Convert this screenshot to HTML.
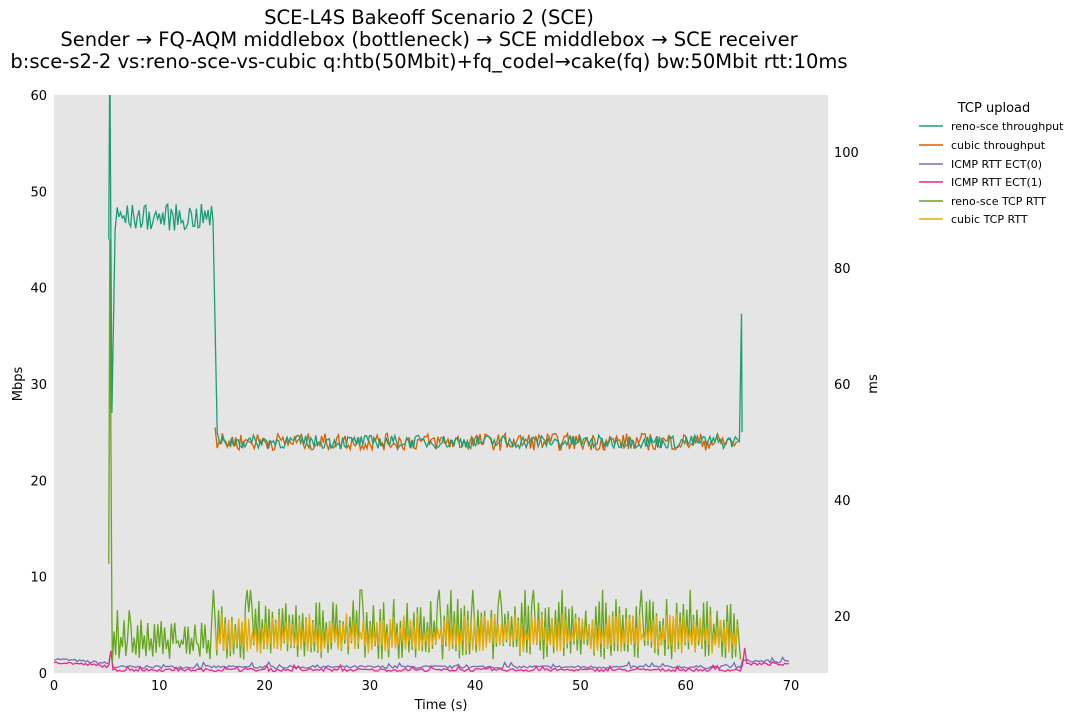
<!DOCTYPE html><html><head><meta charset="utf-8"><style>
body{margin:0;background:#fff;font-family:"DejaVu Sans",sans-serif}
</style></head><body>
<svg id="s" width="1084" height="721" xmlns="http://www.w3.org/2000/svg" font-family="DejaVu Sans, sans-serif">
<rect x="54" y="95" width="774" height="578" fill="#e5e5e5"/>
<g font-size="19.5" text-anchor="middle" fill="#000">
<text x="429" y="24">SCE-L4S Bakeoff Scenario 2 (SCE)</text>
<text x="429" y="46">Sender → FQ-AQM middlebox (bottleneck) → SCE middlebox → SCE receiver</text>
<text x="429" y="68">b:sce-s2-2 vs:reno-sce-vs-cubic q:htb(50Mbit)+fq_codel→cake(fq) bw:50Mbit rtt:10ms</text>
</g>
<g font-size="13" fill="#000" id="ticks"></g>
<text x="441" y="709" font-size="13" text-anchor="middle">Time (s)</text>
<text transform="translate(22,384) rotate(-90)" font-size="13" text-anchor="middle">Mbps</text>
<text transform="translate(877,384) rotate(-90)" font-size="13" text-anchor="middle">ms</text>
<clipPath id="c"><rect x="54" y="95" width="774" height="578"/></clipPath>
<g clip-path="url(#c)" fill="none" stroke-width="1.3" id="lines"></g>
<g font-size="11">
<text x="994" y="112" font-size="13" text-anchor="middle">TCP upload</text>
<line x1="919" x2="943" y1="126" y2="126" stroke="#1b9e77" stroke-width="1.5"/><text x="951" y="130">reno-sce throughput</text>
<line x1="919" x2="943" y1="145" y2="145" stroke="#d95f02" stroke-width="1.5"/><text x="951" y="149">cubic throughput</text>
<line x1="919" x2="943" y1="164" y2="164" stroke="#7570b3" stroke-width="1.5"/><text x="951" y="168">ICMP RTT ECT(0)</text>
<line x1="919" x2="943" y1="182" y2="182" stroke="#e7298a" stroke-width="1.5"/><text x="951" y="186">ICMP RTT ECT(1)</text>
<line x1="919" x2="943" y1="201" y2="201" stroke="#66a61e" stroke-width="1.5"/><text x="951" y="205">reno-sce TCP RTT</text>
<line x1="919" x2="943" y1="219" y2="219" stroke="#e6ab02" stroke-width="1.5"/><text x="951" y="223">cubic TCP RTT</text>
</g>
</svg>
<script>
function X(t){return 54+t*10.529}function YM(v){return 673-v*9.633}function YS(m){return 732-m*5.8}
var tk=document.getElementById('ticks'),h='';
for(var t=0;t<=70;t+=10)h+='<text x="'+X(t)+'" y="690" text-anchor="middle">'+t+'</text>';
for(var v=0;v<=60;v+=10)h+='<text x="47" y="'+(YM(v)+5)+'" text-anchor="end">'+v+'</text>';
for(var m=20;m<=100;m+=20)h+='<text x="834" y="'+(YS(m)+5)+'">'+m+'</text>';
tk.innerHTML=h;
var seed=7;function r(){seed=(seed*16807)%2147483647;return seed/2147483647}
function path(pts,c){return '<path stroke="'+c+'" d="M'+pts.map(function(p){return p[0].toFixed(1)+','+p[1].toFixed(1)}).join('L')+'"/>'}
var L='',p,t;
function icmp(off,c){p=[];for(t=0;t<=70;t+=0.2){var m=t<5.4?12.6-t*0.15+off:(t>65.4?12.3-(t-65.4)*0.05+off:11.2+off);m+=(r()-.5)*0.5;if(r()<0.05&&t>5.4)m+=0.6;if(Math.abs(t-5.4)<0.15)m=14;if(Math.abs(t-65.6)<0.15&&off<0)m=14.5;p.push([X(t),YS(m)])}L+=path(p,c)}
icmp(0,'#7570b3');icmp(-0.5,'#e7298a');
p=[[X(5.2),YS(29)],[X(5.3),YS(85)],[X(5.5),YS(20)],[X(5.55),YS(12)]];
var k=0;for(t=5.7;t<65;t+=0.16){var lo=12.5,hi=t<15?19.5:23;var m=(k++%2)?lo+r()*3:hi-r()*4.5;if(r()<0.06)m=hi+1.5;p.push([X(t),YS(m)])}
p.push([X(65.2),YS(12.5)]);L+=path(p,'#66a61e');
p=[];k=0;for(t=15.3;t<65;t+=0.16){var m=(k++%2)?13.5+r()*2.5:17+r()*3.5;p.push([X(t),YS(m)])}L+=path(p,'#e6ab02');
p=[[X(15.3),YM(25.5)]];for(t=15.5;t<65;t+=0.16){p.push([X(t),YM(24+(r()-.5)*1.8)])}L+=path(p,'#d95f02');
p=[[X(5.2),YM(45)],[X(5.3),YM(65)],[X(5.5),YM(27)],[X(5.8),YM(46)]];
for(t=6;t<15;t+=0.16)p.push([X(t),YM(47.3+(r()-.5)*2.8)]);
p.push([X(15.1),YM(47)],[X(15.5),YM(25)],[X(15.7),YM(24)]);
for(t=15.9;t<64.8;t+=0.16)p.push([X(t),YM(24+(r()-.5)*1.4)]);
p.push([X(65.1),YM(24)],[X(65.3),YM(37.3)],[X(65.35),YM(25)]);L+=path(p,'#1b9e77');
document.getElementById('lines').innerHTML=L;
</script>
</body></html>
